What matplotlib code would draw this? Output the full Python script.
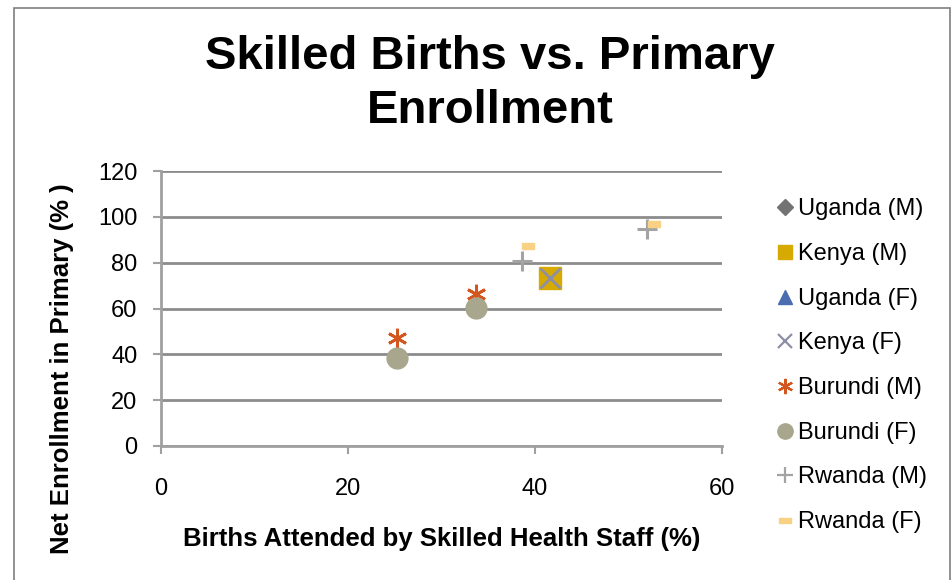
import matplotlib
matplotlib.use("Agg")
import matplotlib.pyplot as plt
from matplotlib.patches import Rectangle
from matplotlib.lines import Line2D

plt.rcParams['font.family'] = ['Liberation Sans', 'DejaVu Sans']

series_names = ["Uganda (M)", "Kenya (M)", "Uganda (F)", "Kenya (F)",
                "Burundi (M)", "Burundi (F)", "Rwanda (M)", "Rwanda (F)"]
uganda_m_x, uganda_m_y = [], []
kenya_m_x, kenya_m_y = [41.6], [73.2]
uganda_f_x, uganda_f_y = [], []
kenya_f_x, kenya_f_y = [41.6], [73.2]
burundi_m_x, burundi_m_y = [25.2, 33.7], [47.2, 66.5]
burundi_f_x, burundi_f_y = [25.2, 33.7], [38.6, 60.2]
rwanda_m_x, rwanda_m_y = [38.6, 52.0], [80.8, 94.6]
rwanda_f_x, rwanda_f_y = [39.2, 52.7], [87.2, 96.8]

xticks = [0, 20, 40, 60]
yticks = [0, 20, 40, 60, 80, 100, 120]

dash = [(-1, -0.45), (1, -0.45), (1, 0.45), (-1, 0.45), (-1, -0.45)]
styles = [
    dict(marker='D', color='#737373', ms=10, mew=1, lms=8),
    dict(marker='s', color='#D6AA00', ms=16, mew=1, lms=10),
    dict(marker='^', color='#4A6DB0', ms=12, mew=1, lms=10),
    dict(marker='x', color='#8C8FA6', ms=14, mew=2.0, lms=10),
    dict(marker=(6, 2, 0), color='#D4561F', ms=14, mew=2.0, lms=11),
    dict(marker='o', color='#A8A68C', ms=15, mew=1, lms=11),
    dict(marker='+', color='#A3A3A3', ms=15, mew=2.2, lms=11),
    dict(marker=dash, color='#F8D184', ms=9, mew=1, lms=8),
]
data = [(uganda_m_x, uganda_m_y), (kenya_m_x, kenya_m_y), (uganda_f_x, uganda_f_y),
        (kenya_f_x, kenya_f_y), (burundi_m_x, burundi_m_y), (burundi_f_x, burundi_f_y),
        (rwanda_m_x, rwanda_m_y), (rwanda_f_x, rwanda_f_y)]

fig = plt.figure(figsize=(9.53, 5.80), dpi=100)
fig.patches.append(Rectangle((14/953, -0.01), (950-14)/953, 1 - 8/580 + 0.01,
                             transform=fig.transFigure, fill=False,
                             edgecolor='#7f7f7f', linewidth=1.2))
ax = fig.add_axes([161/953, 1 - 446/580, (722-161)/953, (446-171)/580])

handles = []
for (xs, ys), st, name in zip(data, styles, series_names):
    ax.plot(xs, ys, linestyle='none', marker=st['marker'], color=st['color'],
            markersize=st['ms'], markeredgewidth=st['mew'], clip_on=False)
    handles.append(Line2D([], [], linestyle='none', marker=st['marker'],
                          color=st['color'], markersize=st['lms'],
                          markeredgewidth=min(st['mew'], 1.6), label=name))

ax.set_xlim(0, 60)
ax.set_ylim(0, 120)
ax.set_xticks(xticks)
ax.set_yticks(yticks)
ax.yaxis.grid(True, color='#8c8c8c', linewidth=2)
ax.set_axisbelow(True)
for s in ['top', 'right']:
    ax.spines[s].set_visible(False)
for s in ['left', 'bottom']:
    ax.spines[s].set_color('#a0a0a0')
    ax.spines[s].set_linewidth(2)
ax.tick_params(axis='both', colors='#a0a0a0', length=6, width=1.5, labelsize=17,
               labelcolor='black')
ax.tick_params(axis='x', pad=17)
ax.tick_params(axis='y', pad=11)

fig.text(490/953, 1 - 84/580, "Skilled Births vs. Primary\nEnrollment", ha='center',
         va='center', fontsize=34, fontweight='bold', linespacing=1.3)
fig.text(442/953, 1 - 539/580, "Births Attended by Skilled Health Staff (%)",
         ha='center', va='center', fontsize=18.5, fontweight='bold')
fig.text(62/953, 1 - 369/580, "Net Enrollment in Primary (% )", ha='center',
         va='center', fontsize=18.5, fontweight='bold', rotation=90)

fig.legend(handles=handles, loc='upper left', bbox_to_anchor=(764/953, 1 - 189/580),
           frameon=False, fontsize=17, handletextpad=0.05, handlelength=1.0,
           labelspacing=0.96, borderaxespad=0)

fig.savefig("out.png", dpi=100)
